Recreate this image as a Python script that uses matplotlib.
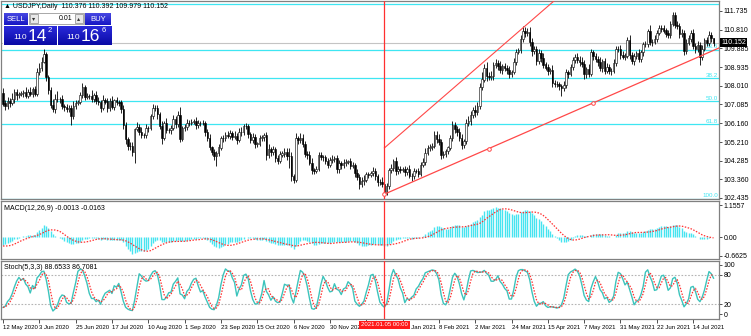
import numpy as np
import pandas as pd
import matplotlib.pyplot as plt
from matplotlib.patches import Rectangle
from matplotlib.colors import to_rgb
from matplotlib.transforms import blended_transform_factory

plt.rcParams['font.family'] = ['Liberation Sans', 'DejaVu Sans']

W, H = 751, 336

# closes before the visible window (only used to warm up the MACD)
warmup_close = [105.8, 107.7, 107.9, 110.7, 110.8, 111.2, 111.2, 111.2, 109.6, 107.9, 107.8, 107.5,
                107.2, 107.9, 108.5, 109.2, 108.8, 108.8, 108.5, 108.4, 107.7, 107.2, 107.5, 107.9,
                107.5, 107.7, 107.7, 107.8, 107.6, 107.5, 107.3, 106.9, 106.6, 107.2,
                106.9, 106.7, 106.5, 106.1, 106.2, 106.6, 107.65]

# daily closes, 12 May 2020 .. 27 Jul 2021
closes = [
    107.13, 107.00, 107.27, 107.14, 107.34, 107.72, 107.53, 107.60, 107.63, 107.71, 107.52, 107.72, 107.62, 107.83,
    107.62, 108.68, 108.89, 109.18, 109.60, 108.43, 107.82, 107.07, 106.87, 107.37, 107.33, 107.33, 107.00, 106.96,
    106.87, 106.90, 106.49, 107.02, 107.17, 107.21, 107.55, 107.93,
    107.47, 107.49, 107.51, 107.37, 107.55, 107.25, 107.21, 106.91, 107.28, 107.23, 106.89, 107.27, 106.98, 107.28,
    107.19, 107.18, 106.86, 106.08, 105.37, 105.02, 105.00, 104.70, 105.84,
    105.97, 105.72, 105.56, 105.55, 105.92, 105.93, 106.49, 106.91, 106.90, 106.60, 106.03, 105.42, 106.15, 105.80,
    105.79, 105.91, 106.35, 106.09, 106.54, 105.37, 105.90,
    105.97, 106.15, 106.18, 106.23, 106.27, 106.06, 106.18, 106.14, 106.14, 105.73, 105.41, 104.95, 104.72, 104.54,
    104.65, 104.94, 105.40, 105.40, 105.58, 105.50, 105.68, 105.46,
    105.51, 105.31, 105.73, 105.69, 106.00, 106.00, 105.61, 105.31, 105.48, 105.12, 105.14, 105.39, 105.44, 105.54,
    104.55, 104.86, 104.71, 104.85, 104.43, 104.29, 104.59, 104.64,
    104.72, 104.50, 104.53, 103.50, 103.35, 105.39, 105.30, 105.43, 105.11, 104.62, 104.57, 104.19, 103.82, 103.78,
    103.86, 104.56, 104.45, 104.45, 104.25, 104.08, 104.30,
    104.35, 104.42, 103.85, 104.16, 104.05, 104.17, 104.23, 104.25, 104.03, 104.06, 103.66, 103.48, 103.12, 103.29,
    103.33, 103.61, 103.56, 103.65, 103.79, 103.50, 103.21, 103.24,
    103.13, 102.71, 103.03, 103.80, 103.94, 104.25, 103.75, 103.88, 103.80, 103.86, 103.70, 103.85, 103.54, 103.50,
    103.78, 103.77, 103.62, 104.08, 104.24, 104.68,
    104.93, 104.96, 105.03, 105.55, 105.38, 105.20, 104.57, 104.61, 104.77, 104.94, 105.40, 106.05, 105.85, 105.70,
    105.43, 105.08, 105.26, 106.18, 106.27, 106.57,
    106.78, 106.70, 107.00, 107.97, 108.32, 108.91, 108.50, 108.46, 108.51, 109.03, 109.13, 109.00, 108.80, 108.97,
    108.88, 108.80, 108.59, 108.70, 109.19, 109.67, 109.77, 110.35, 110.72,
    110.64, 110.70, 110.18, 109.74, 109.83, 109.26, 109.66, 109.39, 109.07, 108.92, 108.75, 108.78, 108.15, 108.09,
    108.09, 107.98, 107.88, 108.07, 108.67, 108.60, 108.93, 109.30,
    109.45, 109.31, 109.20, 109.08, 108.58, 108.82, 108.61, 109.67, 109.49, 109.35, 109.21, 108.90, 109.23, 108.77,
    108.96, 108.75, 108.76, 109.13, 109.85, 109.83, 109.54,
    109.46, 109.50, 110.29, 109.52, 109.25, 109.48, 109.63, 109.33, 109.67, 110.07, 110.08, 110.72, 110.21, 110.21,
    110.34, 110.65, 110.90, 110.86, 110.76, 110.61, 110.53, 111.10,
    111.53, 111.05, 110.97, 110.61, 110.64, 109.75, 110.16, 110.36, 110.62, 110.00, 109.82, 110.06, 109.46, 109.84,
    110.26, 110.15, 110.55, 110.38, 110.152,
]

# wick length above / below the body, in 0.01 yen
hi_ext = [
    25, 18, 20, 12, 30, 15, 14, 10, 12, 9, 26, 11, 22, 10,
    16, 20, 24, 28, 25, 10, 14, 12, 30, 22, 38, 12, 20, 9, 15, 18, 14, 25, 12, 10, 14, 23,
    12, 14, 9, 28, 12, 18, 20, 10, 25, 12, 16, 11, 24, 9, 15, 11, 14, 18, 12, 10, 22, 20, 5,
    24, 15, 22, 12, 18, 9, 13, 20, 14, 17, 10, 21, 12, 26, 9, 14, 20, 18, 22, 41, 12,
    15, 20, 12, 14, 9, 18, 11, 10, 16, 13, 12, 20, 9, 14, 10, 18, 12, 16, 11, 20, 12, 9,
    25, 14, 18, 22, 11, 16, 13, 12, 20, 15, 10, 19, 12, 14, 18, 24, 12, 15, 11, 16, 20, 14,
    18, 22, 40, 20, 14, 26, 12, 22, 16, 18, 14, 20, 22, 12, 15, 14, 18, 10, 14, 16, 15,
    20, 12, 16, 14, 10, 18, 12, 9, 16, 14, 12, 20, 14, 16, 22, 12, 10, 14, 18, 12, 10, 12,
    25, 20, 15, 12, 18, 14, 24, 12, 16, 10, 18, 14, 20, 12, 14, 10, 16, 12, 20, 22,
    15, 18, 12, 20, 22, 25, 16, 14, 12, 10, 18, 22, 17, 14, 20, 16, 12, 20, 24, 18,
    20, 30, 22, 18, 40, 20, 28, 18, 22, 16, 20, 18, 26, 14, 20, 16, 22, 12, 18, 16, 12, 20, 25,
    22, 18, 25, 20, 16, 14, 18, 12, 24, 14, 16, 12, 28, 16, 18, 12, 14, 18, 20, 14, 16, 12,
    14, 18, 16, 22, 20, 14, 26, 18, 12, 16, 14, 22, 12, 18, 20, 16, 14, 20, 12, 14, 20,
    20, 12, 14, 25, 18, 14, 12, 20, 14, 12, 16, 10, 30, 14, 18, 12, 14, 16, 20, 14, 20, 12,
    13, 13, 20, 18, 22, 14, 18, 16, 18, 20, 14, 16, 12, 18, 14, 16, 18, 12, 2,
]
lo_ext = [
    12, 20, 14, 18, 10, 16, 22, 12, 10, 18, 12, 14, 10, 16,
    14, 10, 12, 14, 5, 18, 22, 16, 14, 20, 12, 18, 16, 22, 14, 14, 41, 14, 18, 12, 10, 14,
    16, 10, 12, 14, 18, 12, 16, 22, 10, 14, 18, 12, 14, 16, 12, 18, 20, 22, 24, 18, 16, 20, 51,
    10, 18, 14, 16, 12, 20, 10, 14, 16, 22, 18, 30, 12, 16, 14, 18, 12, 20, 14, 17, 12,
    12, 14, 16, 10, 12, 18, 14, 12, 10, 20, 16, 12, 14, 20, 54, 12, 14, 18, 12, 10, 16, 14,
    12, 18, 10, 16, 14, 12, 20, 16, 12, 18, 14, 12, 10, 16, 24, 12, 18, 14, 20, 16, 12, 14,
    16, 18, 60, 20, 17, 10, 18, 12, 16, 14, 20, 12, 22, 14, 12, 10, 14, 16, 12, 18, 10,
    14, 12, 20, 16, 18, 12, 14, 10, 16, 12, 18, 14, 24, 16, 20, 12, 14, 10, 12, 18, 16, 14,
    16, 10, 12, 14, 12, 18, 16, 12, 14, 10, 16, 12, 14, 20, 12, 10, 14, 12, 10, 16,
    12, 14, 16, 12, 20, 14, 18, 16, 12, 14, 10, 12, 20, 18, 16, 22, 14, 12, 16, 20,
    14, 22, 16, 12, 18, 14, 24, 18, 16, 20, 14, 18, 16, 22, 14, 18, 20, 16, 12, 14, 10, 12, 16,
    18, 14, 20, 24, 16, 20, 14, 18, 16, 12, 20, 14, 18, 16, 12, 20, 40, 14, 16, 18, 12, 14,
    16, 14, 18, 12, 22, 16, 14, 12, 18, 16, 20, 14, 18, 16, 12, 14, 20, 12, 14, 16, 18,
    14, 16, 12, 18, 14, 20, 16, 12, 14, 18, 12, 14, 16, 20, 12, 14, 10, 16, 14, 18, 12, 16,
    12, 18, 14, 20, 16, 22, 14, 12, 16, 18, 20, 14, 40, 16, 12, 18, 14, 20, 17,
]

last_open = 110.376
price_ticks = [111.735, 110.810, 109.885, 108.935, 108.010, 107.085, 106.160, 105.210, 104.285, 103.360, 102.435]
date_labels = ["12 May 2020", "3 Jun 2020", "25 Jun 2020", "17 Jul 2020", "10 Aug 2020", "1 Sep 2020",
               "23 Sep 2020", "15 Oct 2020", "6 Nov 2020", "30 Nov 2020", "22 Dec 2020", "15 Jan 2021",
               "8 Feb 2021", "2 Mar 2021", "24 Mar 2021", "15 Apr 2021", "7 May 2021", "31 May 2021",
               "22 Jun 2021", "14 Jul 2021"]
label_step = 16
fib_high, fib_low = 112.09, 102.40
fib_levels = [0.0, 23.6, 38.2, 50.0, 61.8, 100.0]
trend_lower = [(168, 102.62), (260, 107.16)]
trend_upper = [(168, 104.92), (229, 110.89)]
cursor_bar = 168
cursor_label = '2021.01.05 00:00'
macd_ticks = [1.1557, 0.0, -0.6625]
macd_tick_labels = ["1.1557", "0.00", "-0.6625"]
stoch_ticks = [100, 80, 20, 0]

close = np.array(closes)
n = len(close)
idx = np.arange(n)
opn = np.r_[warmup_close[-1], close[:-1]]
opn[-1] = last_open
high = np.maximum(opn, close) + np.array(hi_ext) / 100
low = np.minimum(opn, close) - np.array(lo_ext) / 100

# MACD(12,26,9), MT4 style: signal is SMA of main
full = pd.Series(np.r_[warmup_close, close])
macd_full = full.ewm(span=12, adjust=False).mean() - full.ewm(span=26, adjust=False).mean()
sig_full = macd_full.rolling(9).mean()
macd = macd_full.values[-n:]
macd_sig = sig_full.values[-n:]

# Stochastic(5,3,3)
hs, ls, cs = pd.Series(high), pd.Series(low), pd.Series(close)
hh = hs.rolling(5, min_periods=1).max()
ll = ls.rolling(5, min_periods=1).min()
k = 100 * (cs - ll).rolling(3, min_periods=1).sum() / (hh - ll).rolling(3, min_periods=1).sum()
d = k.rolling(3, min_periods=1).mean()

fig = plt.figure(figsize=(W / 100, H / 100), dpi=100)
fig.patch.set_facecolor('white')


def px_axes(x0, y0, x1, y1, **kw):
    return fig.add_axes([x0 / W, 1 - y1 / H, (x1 - x0) / W, (y1 - y0) / H], **kw)


ax = px_axes(1, 1, 719, 199)
am = px_axes(1, 201, 719, 259)
ast = px_axes(1, 261, 719, 319)

xlim = (-0.88, 315.4)
for a in (ax, am, ast):
    a.set_xlim(*xlim)
    for s in a.spines.values():
        s.set_color('#808080')
        s.set_linewidth(0.9)
    a.yaxis.tick_right()
    a.tick_params(axis='y', labelsize=5, length=2, width=0.6, pad=1.5, colors='#333333', labelcolor='black')
    a.axvline(cursor_bar, color='#ff3030', lw=0.9, zorder=6)

# main price panel
ax.set_ylim(102.38, 112.23)
ax.set_xticks([])
ax.set_yticks(price_ticks)
ax.set_yticklabels(['%.3f' % t for t in price_ticks])

for lv in fib_levels:
    p = fib_high - lv / 100 * (fib_high - fib_low)
    ax.axhline(p, color='#3ee6f2', lw=0.9, zorder=1)
    if lv > 0:
        ax.text(xlim[1] - 0.5, p + 0.03, '%.1f' % lv, color='#3ee6f2', fontsize=4.5, ha='right', va='bottom')

ax.axhline(close[-1], color='#c4c4c4', lw=0.8, zorder=1)

up = close >= opn
ax.vlines(idx, low, high, color='black', lw=0.6, zorder=3)
ax.bar(idx, np.abs(close - opn) + 0.005, bottom=np.minimum(opn, close), width=0.7,
       color=np.where(up, 'white', 'black'), edgecolor='black', linewidth=0.4, zorder=4)

(x0, y0), (x1, y1) = trend_lower
sl = (y1 - y0) / (x1 - x0)
ax.plot([x0, xlim[1]], [y0, y0 + sl * (xlim[1] - x0)], color='#ff4848', lw=0.9, zorder=5)
ax.plot([x0, (x0 + x1) / 2, x1], [y0, (y0 + y1) / 2, y1], 'o', ms=2.6, mfc='white', mec='#ff4848',
        mew=0.7, zorder=6)
(x0, y0), (x1, y1) = trend_upper
sl = (y1 - y0) / (x1 - x0)
ax.plot([x0, xlim[1]], [y0, y0 + sl * (xlim[1] - x0)], color='#ff4848', lw=0.8, zorder=5)

tr = blended_transform_factory(ax.transAxes, ax.transData)
ax.text(1.003, close[-1], '%.3f' % close[-1], transform=tr, fontsize=5, color='white', ha='left',
        va='center', bbox=dict(facecolor='black', edgecolor='none', pad=0.6), zorder=10, clip_on=False)

# MACD panel
am.set_ylim(-0.77, 1.30)
am.set_xticks([])
am.vlines(idx, 0, macd, color='#46e4f0', lw=1.0, zorder=2)
am.plot(idx, macd_sig, color='#ff3030', lw=0.9, ls=(0, (1.2, 1.2)), zorder=3)
am.set_yticks(macd_ticks)
am.set_yticklabels(macd_tick_labels)
am.text(0.004, 0.93, 'MACD(12,26,9) -0.0013 -0.0163', transform=am.transAxes, fontsize=5, va='top')

# Stochastic panel
ast.set_ylim(-10, 108)
for lv in (20, 80):
    ast.axhline(lv, color='#b4b4b4', lw=0.8, ls=(0, (1.5, 1.5)), zorder=1)
ast.plot(idx, k, color='#3cc4bc', lw=1.0, zorder=3)
ast.plot(idx, d, color='#ff3030', lw=0.9, ls=(0, (1.2, 1.2)), zorder=4)
ast.set_yticks(stoch_ticks)
ast.set_yticklabels([str(t) for t in stoch_ticks])
ast.text(0.004, 0.95, 'Stoch(5,3,3) 88.6533 86.7081', transform=ast.transAxes, fontsize=5, va='top')

# time axis: the label fully under the cursor box is hidden, as in the terminal
tick_pos = np.arange(len(date_labels)) * label_step
shown = [lab if not (cursor_bar - 10 < p <= cursor_bar) else '' for p, lab in zip(tick_pos, date_labels)]
ast.set_xticks(tick_pos)
ast.set_xticklabels(shown, ha='left')
ast.tick_params(axis='x', labelsize=4.3, length=3, width=0.6, pad=1.5, colors='#333333', labelcolor='black')

# cursor date box on the time axis
fig.text(384.4 / W, 1 - 325 / H, cursor_label, fontsize=4.3, color='white', ha='center', va='center',
         bbox=dict(facecolor='#ff1a1a', edgecolor='none', pad=1.2), zorder=10)

# header
fig.text(4 / W, 1 - 6 / H, '\u25b2 USDJPY,Daily  110.376 110.392 109.979 110.152', fontsize=5,
         va='center', zorder=10)


# one-click trading panel
def grad_box(x0, y0, x1, y1, top, bottom):
    b = px_axes(x0, y0, x1, y1, zorder=8)
    c0 = np.array(to_rgb(top))
    c1 = np.array(to_rgb(bottom))
    t = np.linspace(0, 1, 20)[:, None, None]
    b.imshow(c0 * (1 - t) + c1 * t, aspect='auto', extent=(0, 1, 0, 1))
    b.set_axis_off()


def box(x0, y0, x1, y1, fc, ec, z=9):
    fig.add_artist(Rectangle((x0 / W, 1 - y1 / H), (x1 - x0) / W, (y1 - y0) / H, transform=fig.transFigure,
                             facecolor=fc, edgecolor=ec, lw=0.6, zorder=z))


def ftext(x, y, s, size, **kw):
    fig.text(x / W, 1 - y / H, s, fontsize=size, zorder=11, **kw)


box(3, 12, 112, 46, 'white', 'none', z=7)
grad_box(4, 13, 28, 25, '#4646e2', '#1818c4')
grad_box(85, 13, 111, 25, '#4646e2', '#1818c4')
grad_box(4, 26, 57, 45, '#2a2ada', '#0a0aa6')
grad_box(58, 26, 111, 45, '#2a2ada', '#0a0aa6')
box(29, 13, 84, 24, 'white', '#9a9a9a')
box(30, 14, 38, 23, '#e8e8e8', '#9a9a9a')
box(75, 14, 83, 23, '#e8e8e8', '#9a9a9a')
ftext(34, 19, '\u25be', 4.5, ha='center', va='center', color='#303030')
ftext(79, 19, '\u25b4', 4.5, ha='center', va='center', color='#303030')
ftext(72, 19, '0.01', 5, ha='right', va='center')
ftext(16, 19.5, 'SELL', 5.5, ha='center', va='center', color='white')
ftext(98, 19.5, 'BUY', 5.5, ha='center', va='center', color='white')
ftext(13, 39, '110', 6, ha='left', va='baseline', color='white')
ftext(28, 41, '14', 12.5, ha='left', va='baseline', color='white')
ftext(47.5, 32, '2', 5.5, ha='left', va='baseline', color='white')
ftext(66, 39, '110', 6, ha='left', va='baseline', color='white')
ftext(81, 41, '16', 12.5, ha='left', va='baseline', color='white')
ftext(101.5, 32, '6', 5.5, ha='left', va='baseline', color='white')

fig.savefig('out.png', dpi=100, facecolor='white')
